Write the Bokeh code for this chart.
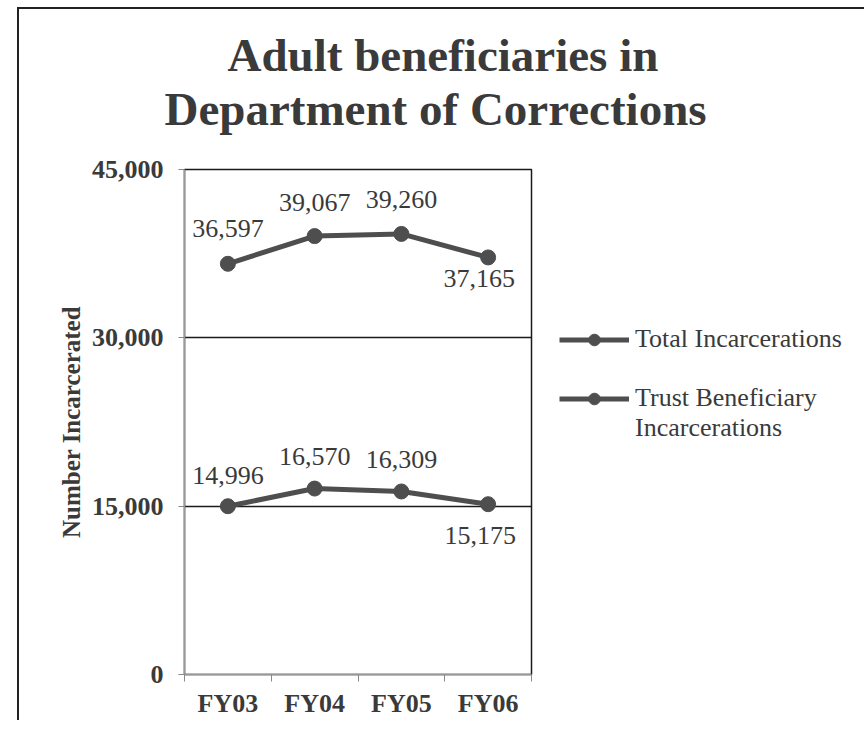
from bokeh.plotting import figure
from bokeh.models import (Range1d, FixedTicker, Legend, LegendItem, Title,
                          ColumnDataSource, NumeralTickFormatter)
from bokeh.embed import file_html
from bokeh.resources import INLINE
from bokeh.core.properties import value

# ---------------- data ----------------
categories = ["FY03", "FY04", "FY05", "FY06"]
total_incarcerations = [36597, 39067, 39260, 37165]
trust_incarcerations = [14996, 16570, 16309, 15175]
y_ticks = [0, 15000, 30000, 45000]
series_names = ["Total Incarcerations", "Trust Beneficiary", "Incarcerations"]
title_lines = ["Adult beneficiaries in", "Department of Corrections"]
y_title = "Number Incarcerated"

# label offsets in pixels (style only)
total_dx = [0, 0, 0, -9]
total_dy = [-35, -34, -34, 21]
trust_dx = [0, 0, 0, -8]
trust_dy = [-31, -32, -32, 31]

# ---------------- style ----------------
FONT = "Liberation Serif"
TXT = "#3a3a3a"
LINE = "#4e4e4e"
LEFT, RIGHT, TOP, BOTTOM = 165, 317, 160, 46
FRAME_W, FRAME_H = 347, 505

xs = [i + 0.5 for i in range(len(categories))]

p = figure(frame_width=FRAME_W, frame_height=FRAME_H,
           output_backend="svg", toolbar_location=None, title=None,
           x_range=Range1d(0, len(categories)), y_range=Range1d(y_ticks[0], y_ticks[-1]),
           min_border_left=LEFT, min_border_right=RIGHT,
           min_border_top=TOP, min_border_bottom=BOTTOM)
p.styles = {"border-left": "2px solid #222", "border-top": "2px solid #222",
            "margin-left": "17px", "margin-top": "7px"}
p.background_fill_color = "white"
p.border_fill_color = "white"
p.outline_line_color = "#1a1a1a"
p.outline_line_width = 1.5

# grids
p.xgrid.visible = False
p.ygrid.ticker = FixedTicker(ticks=y_ticks)
p.ygrid.grid_line_color = "#1a1a1a"
p.ygrid.grid_line_width = 1.5

# x axis
p.xaxis.ticker = FixedTicker(ticks=xs, minor_ticks=list(range(len(categories) + 1)))
p.xaxis.major_label_overrides = {x: c for x, c in zip(xs, categories)}
p.xaxis.major_tick_out = 0
p.xaxis.major_tick_in = 0
p.xaxis.minor_tick_out = 7
p.xaxis.minor_tick_in = 0
p.xaxis.minor_tick_line_color = "#888888"
p.xaxis.axis_line_color = "#999999"
p.xaxis.axis_line_width = 1.5
p.xaxis.major_label_standoff = 7
p.xaxis.major_label_text_font = FONT
p.xaxis.major_label_text_font_style = "bold"
p.xaxis.major_label_text_font_size = "26px"
p.xaxis.major_label_text_color = TXT

# y axis
p.yaxis.ticker = FixedTicker(ticks=y_ticks)
p.yaxis.formatter = NumeralTickFormatter(format="0,0")
p.yaxis.major_tick_out = 6
p.yaxis.major_tick_in = 0
p.yaxis.minor_tick_out = 0
p.yaxis.major_tick_line_color = "#888888"
p.yaxis.axis_line_color = "#999999"
p.yaxis.axis_line_width = 1.5
p.yaxis.major_label_standoff = 15
p.yaxis.major_label_text_font = FONT
p.yaxis.major_label_text_font_style = "bold"
p.yaxis.major_label_text_font_size = "26px"
p.yaxis.major_label_text_color = TXT
p.yaxis.axis_label = y_title
p.yaxis.axis_label_text_font = FONT
p.yaxis.axis_label_text_font_style = "bold"
p.yaxis.axis_label_text_font_size = "25px"
p.yaxis.axis_label_text_color = TXT
p.yaxis.axis_label_standoff = 4

# series
src_total = ColumnDataSource(dict(x=xs, y=total_incarcerations,
                                  lab=[f"{v:,}" for v in total_incarcerations],
                                  dx=total_dx, dy=total_dy))
src_trust = ColumnDataSource(dict(x=xs, y=trust_incarcerations,
                                  lab=[f"{v:,}" for v in trust_incarcerations],
                                  dx=trust_dx, dy=trust_dy))

r1l = p.line("x", "y", source=src_total, line_width=5, line_color=LINE)
r1c = p.scatter("x", "y", source=src_total, size=15, fill_color=LINE, line_color=LINE)
r2l = p.line("x", "y", source=src_trust, line_width=5, line_color=LINE)
r2c = p.scatter("x", "y", source=src_trust, size=15, fill_color=LINE, line_color=LINE)

for src in (src_total, src_trust):
    p.text("x", "y", text="lab", source=src, x_offset="dx", y_offset="dy",
           text_font=value(FONT), text_font_size="26px", text_color=TXT,
           text_align="center", text_baseline="middle")

# invisible renderer for legend spacing / second line
blank = p.line(x=[], y=[], line_alpha=0)

legend = Legend(items=[
    LegendItem(label=series_names[0], renderers=[r1l, r1c]),
    LegendItem(label=" ", renderers=[blank]),
    LegendItem(label=series_names[1], renderers=[r2l, r2c]),
    LegendItem(label=series_names[2], renderers=[blank]),
], location=(28, 231))
legend.border_line_color = None
legend.background_fill_alpha = 0
legend.padding = 0
legend.margin = 0
legend.spacing = 0
legend.glyph_width = 70
legend.glyph_height = 29
legend.label_height = 29
legend.label_standoff = 6
legend.label_text_font = FONT
legend.label_text_font_size = "26px"
legend.label_text_color = TXT
p.add_layout(legend, "right")

# title: a small blank spacer panel, then the two lines (each placed from the frame's left)
p.add_layout(Title(text=" ", text_font_size="10px", standoff=22), "above")
p.add_layout(Title(text=title_lines[1], align="left", offset=-20, standoff=0,
                   text_font=FONT, text_font_size="47px", text_font_style="bold",
                   text_color=TXT), "above")
p.add_layout(Title(text=title_lines[0], align="left", offset=43, standoff=0,
                   text_font=FONT, text_font_size="47px", text_font_style="bold",
                   text_color=TXT), "above")

open("out.html", "w").write(file_html(p, INLINE))
